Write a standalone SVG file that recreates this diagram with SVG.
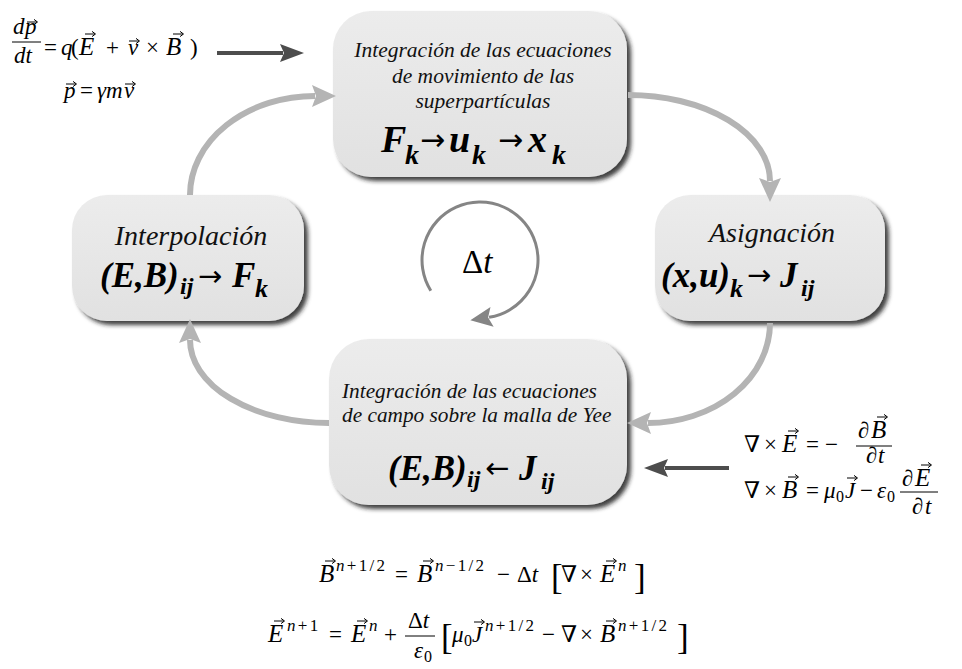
<svg xmlns="http://www.w3.org/2000/svg" width="962" height="669" viewBox="0 0 962 669">
<defs>
<style>
.t{font-family:"Liberation Serif","DejaVu Serif",serif;font-style:italic;fill:#111}
.bm{font-family:"Liberation Serif","DejaVu Serif",serif;font-style:italic;font-weight:bold;fill:#000}
.ar{font-family:"DejaVu Sans","Liberation Sans",sans-serif;font-style:normal;font-weight:normal;fill:#000}
.dl{font-family:"Liberation Serif","DejaVu Serif",serif;font-style:normal;fill:#000}
.mi{font-family:"Liberation Serif","DejaVu Serif",serif;font-style:italic;font-size:23px;fill:#000}
.mo{font-family:"Liberation Serif","DejaVu Serif",serif;font-style:normal;font-size:23px;fill:#000}
.cp{font-size:25px}
.sp{font-size:17px;letter-spacing:2.3px}
.sb{font-size:16px}
.br{font-size:35px}
.up{font-style:normal}
.box{fill:url(#bg);filter:url(#sh)}
.gc{fill:none;stroke:#b4b4b4;stroke-width:6;marker-end:url(#ga)}
.dc{fill:none;stroke:#4d4d4d;stroke-width:4;marker-end:url(#da)}
.fb{stroke:#000;stroke-width:1}
</style>
<linearGradient id="bg" x1="0" y1="0" x2="0" y2="1">
<stop offset="0" stop-color="#ececec"/>
<stop offset="1" stop-color="#e1e1e1"/>
</linearGradient>
<filter id="sh" x="-10%" y="-10%" width="125%" height="130%">
<feDropShadow dx="4" dy="4" stdDeviation="2.2" flood-color="#1a1a1a" flood-opacity="0.85"/>
</filter>
<marker id="ga" markerUnits="userSpaceOnUse" markerWidth="30" markerHeight="30" viewBox="-2 -15 30 30" refX="3" refY="0" orient="auto">
<path d="M0,-11 L24,0 L0,11 L4,0 Z" fill="#b4b4b4"/>
</marker>
<marker id="ca" markerUnits="userSpaceOnUse" markerWidth="30" markerHeight="30" viewBox="-2 -15 30 30" refX="3" refY="0" orient="auto">
<path d="M0,-10 L22,0 L0,10 L4,0 Z" fill="#858585"/>
</marker>
<marker id="da" markerUnits="userSpaceOnUse" markerWidth="30" markerHeight="30" viewBox="-2 -15 30 30" refX="3" refY="0" orient="auto">
<path d="M0,-9 L24,0 L0,9 L4,0 Z" fill="#4d4d4d"/>
</marker>
<path id="va" d="M0,0 H10 M7,-2.6 L10.5,0 L7,2.6" fill="none" stroke="#000" stroke-width="1"/>
</defs>
<rect width="962" height="669" fill="#fff"/>

<g id="node-top">
<rect class="box" x="333" y="11" width="294" height="166" rx="38"/>
<text class="t" font-size="21.5" text-anchor="middle"><tspan x="483" y="57">Integración de las ecuaciones</tspan><tspan x="483" y="83">de movimiento de las</tspan><tspan x="483" y="108">superpartículas</tspan></text>
<text class="bm" font-size="38"><tspan x="381" y="152">F</tspan><tspan x="405" y="164" font-size="28">k</tspan><tspan class="ar" x="420" y="150" font-size="30">→</tspan><tspan x="449" y="152">u</tspan><tspan x="472" y="164" font-size="28">k</tspan><tspan class="ar" x="498" y="150" font-size="30">→</tspan><tspan x="528" y="152">x</tspan><tspan x="552" y="164" font-size="28">k</tspan></text>
</g>

<g id="node-left">
<rect class="box" x="72" y="195" width="232" height="126" rx="35"/>
<text class="t" font-size="28" text-anchor="middle" x="191" y="245">Interpolación</text>
<text class="bm" font-size="35"><tspan x="100" y="287">(E,B)</tspan><tspan x="180" y="294" font-size="24">ij</tspan><tspan class="ar" x="198" y="286" font-size="29">→</tspan><tspan x="232" y="287">F</tspan><tspan x="255" y="297" font-size="26">k</tspan></text>
</g>

<g id="node-right">
<rect class="box" x="655" y="195" width="230" height="126" rx="35"/>
<text class="t" font-size="28" text-anchor="middle" x="772" y="242">Asignación</text>
<text class="bm" font-size="35"><tspan x="661" y="287">(x,u)</tspan><tspan x="730" y="297" font-size="26">k</tspan><tspan class="ar" x="747" y="285" font-size="29">→</tspan><tspan x="780" y="287">J</tspan><tspan x="801" y="296" font-size="24">ij</tspan></text>
</g>

<g id="node-bottom">
<rect class="box" x="329" y="339" width="298" height="166" rx="40"/>
<text class="t" font-size="21.3"><tspan x="342" y="398">Integración de las ecuaciones</tspan><tspan x="342" y="422">de campo sobre la malla de Yee</tspan></text>
<text class="bm" font-size="35"><tspan x="388" y="480">(E,B)</tspan><tspan x="467" y="487" font-size="24">ij</tspan><tspan class="ar" x="485" y="478" font-size="29">←</tspan><tspan x="519" y="480">J</tspan><tspan x="541" y="489" font-size="24">ij</tspan></text>
</g>

<g id="node-cycle">
<path d="M430.8,290.7 A58,58 0 1 1 489.1,317.3" fill="none" stroke="#858585" stroke-width="3" marker-end="url(#ca)"/>
<text class="dl" font-size="33" x="462" y="273">Δ<tspan font-style="italic">t</tspan></text>
</g>

<g id="connectors">
<path class="gc" d="M190,195 A125,99 0 0 1 315,96"/>
<path class="gc" d="M628,95 A142,86 0 0 1 770,181"/>
<path class="gc" d="M770,323 A122,100 0 0 1 648,423"/>
<path class="gc" d="M329,423 A139,83 0 0 1 190,340"/>
<path class="dc" d="M217,53 L283,53"/>
<path class="dc" d="M729,468 L665,468"/>
</g>

<g id="eq-motion">
<text class="mi" x="13" y="34">d</text><text class="mi" x="25" y="34">p</text><use href="#va" x="27" y="22"/>
<line class="fb" x1="12" y1="42" x2="41" y2="42"/>
<text class="mi" x="14" y="63">dt</text>
<text class="mo" x="44" y="55">=</text>
<text class="mi" x="61" y="55">q</text>
<text class="mo" x="71" y="55">(</text>
<text class="mi cp" x="79" y="55">E</text><use href="#va" x="85" y="34"/>
<text class="mo" x="106" y="55">+</text>
<text class="mi" x="128" y="55">v</text><use href="#va" x="129" y="41"/>
<text class="mo" x="146" y="55">×</text>
<text class="mi cp" x="166" y="55">B</text><use href="#va" x="173" y="34"/>
<text class="mo" x="190" y="55">)</text>
<text class="mi" x="64" y="98">p</text><use href="#va" x="66" y="84"/>
<text class="mo" x="80" y="98">=</text>
<text class="mi" x="97" y="98">γm</text>
<text class="mi" x="124" y="98">v</text><use href="#va" x="125" y="84"/>
</g>

<g id="eq-maxwell">
<text class="mo" x="744" y="452">∇</text>
<text class="mo" x="764" y="452">×</text>
<text class="mi cp" x="782" y="452">E</text><use href="#va" x="788" y="431"/>
<text class="mo" x="806" y="452">=</text>
<text class="mo" x="825" y="452">−</text>
<line class="fb" x1="856" y1="446" x2="892" y2="446"/>
<text class="mo" x="858" y="438">∂</text><text class="mi cp" x="871" y="438">B</text><use href="#va" x="877" y="417"/>
<text class="mo" x="866" y="463">∂</text><text class="mi" x="878" y="463">t</text>
<text class="mo" x="744" y="498">∇</text>
<text class="mo" x="764" y="498">×</text>
<text class="mi cp" x="782" y="498">B</text><use href="#va" x="788" y="477"/>
<text class="mo" x="806" y="498">=</text>
<text class="mi" x="824" y="498">μ</text><text class="mo sb" x="836" y="502">0</text>
<text class="mi" x="845" y="498">J</text><use href="#va" x="847" y="478"/>
<text class="mo" x="860" y="498">−</text>
<text class="mi" x="877" y="498">ε</text><text class="mo sb" x="887" y="502">0</text>
<line class="fb" x1="900" y1="492" x2="938" y2="492"/>
<text class="mo" x="902" y="486">∂</text><text class="mi cp" x="915" y="486">E</text><use href="#va" x="921" y="465"/>
<text class="mo" x="912" y="514">∂</text><text class="mi" x="925" y="514">t</text>
</g>

<g id="eq-yee">
<text class="mi cp" x="319" y="582">B</text><use href="#va" x="325" y="561"/>
<text class="mi sp" x="336" y="571">n<tspan class="up">+1/2</tspan></text>
<text class="mo" x="395" y="582">=</text>
<text class="mi cp" x="417" y="582">B</text><use href="#va" x="423" y="561"/>
<text class="mi sp" x="435" y="571">n<tspan class="up">−1/2</tspan></text>
<text class="mo" x="497" y="582">−</text>
<text class="mo" x="517" y="582">Δ<tspan font-style="italic">t</tspan></text>
<text class="mo br" x="551" y="589">[</text>
<text class="mo" x="561" y="582">∇</text>
<text class="mo" x="580" y="582">×</text>
<text class="mi cp" x="600" y="582">E</text><use href="#va" x="606" y="561"/>
<text class="mi sp" x="618" y="571">n</text>
<text class="mo br" x="634" y="589">]</text>

<text class="mi cp" x="268" y="642">E</text><use href="#va" x="274" y="621"/>
<text class="mi sp" x="287" y="631">n<tspan class="up">+1</tspan></text>
<text class="mo" x="329" y="642">=</text>
<text class="mi cp" x="351" y="642">E</text><use href="#va" x="357" y="621"/>
<text class="mi sp" x="369" y="631">n</text>
<text class="mo" x="384" y="642">+</text>
<text class="mo" x="408" y="628">Δ<tspan font-style="italic">t</tspan></text>
<line class="fb" x1="405" y1="636" x2="435" y2="636"/>
<text class="mi" x="414" y="658">ε</text><text class="mo sb" x="424" y="662">0</text>
<text class="mo br" x="441" y="649">[</text>
<text class="mi" x="452" y="642">μ</text><text class="mo sb" x="464" y="646">0</text>
<text class="mi" x="472" y="642">J</text><use href="#va" x="474" y="622"/>
<text class="mi sp" x="485" y="631">n<tspan class="up">+1/2</tspan></text>
<text class="mo" x="542" y="642">−</text>
<text class="mo" x="561" y="642">∇</text>
<text class="mo" x="580" y="642">×</text>
<text class="mi cp" x="600" y="642">B</text><use href="#va" x="606" y="621"/>
<text class="mi sp" x="618" y="631">n<tspan class="up">+1/2</tspan></text>
<text class="mo br" x="677" y="649">]</text>
</g>
</svg>
